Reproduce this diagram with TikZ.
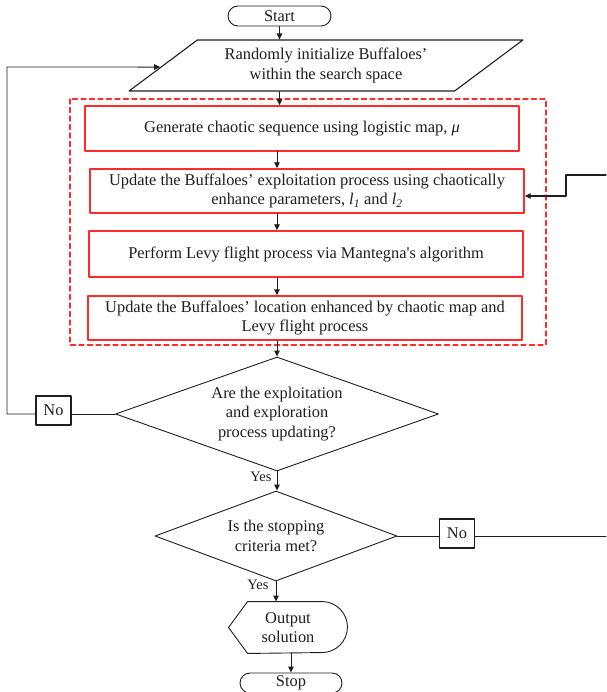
\documentclass[tikz,border=0pt]{standalone}
\usepackage{fontspec}
\setmainfont{Liberation Serif}
\usetikzlibrary{arrows.meta, calc, shapes.misc, shapes.geometric, positioning}
\definecolor{ink}{HTML}{1E1E1E}
\definecolor{fred}{HTML}{FF2B2B}
\tikzset{
  el/.style={line cap=round, line join=round},
  arr/.style={el, -{Triangle[length=6pt,width=5.5pt]}},
  term/.style={draw=ink, rounded rectangle, minimum width=103pt, minimum height=20pt, inner sep=0pt},
  redbox/.style={draw=fred, line width=1.4pt, minimum width=434pt, minimum height=45pt, inner sep=0pt, align=center},
  dec/.style={draw=ink, diamond, inner sep=0pt, align=center},
  nobox/.style={draw=ink, line width=1.1pt, minimum width=35pt, minimum height=29pt, inner sep=0pt},
  lbl/.style={inner sep=0pt, font=\fontsize{14.5}{16}\selectfont},
}

\begin{document}
\begin{tikzpicture}[x=1pt, y=-1pt, el, ink, line width=0.9pt, font=\fontsize{16.4}{19.7}\selectfont]
  \useasboundingbox (0,0) rectangle (606,692);
  \node[term] (start) at (279.5,16) {Start};
  \node[draw=ink, line width=1.1pt, trapezium, trapezium left angle=32.85, trapezium right angle=147.15,
        trapezium stretches=true, minimum width=394pt, minimum height=51pt, inner sep=0pt, align=center]
        (init) at (326,65.5) {Randomly initialize Buffaloes’\\within the search space};
  % chaotic levy block
  \draw[fred, line width=1.1pt, dash pattern=on 5pt off 3.5pt] (70,99) rectangle (546,345);
  \node[redbox] (gen) at (302,128.5) {Generate chaotic sequence using logistic map, \textit{μ}};
  \node[redbox, minimum height=44pt] (upd) at (307,191) {Update the Buffaloes’ exploitation process using chaotically\\enhance parameters, \textit{l}\textsubscript{\textit{1}} and \textit{l}\textsubscript{\textit{2}}};
  \node[redbox, minimum height=46pt] (levy) at (306,254) {Perform Levy flight process via Mantegna\textquotesingle s algorithm};
  \node[redbox, minimum height=44pt] (loc) at (305,318) {Update the Buffaloes’ location enhanced by chaotic map and\\Levy flight process};
  \node[dec, minimum width=323pt, minimum height=114pt, aspect=2.83] (d1) at (277,414) {Are the exploitation\\and exploration\\process updating?};
  \node[dec, minimum width=242pt, minimum height=90pt, aspect=2.69] (d2) at (276,536) {Is the stopping\\criteria met?};
  \node[nobox] (no1) at (53.5,410.5) {No};
  \node[nobox] (no2) at (457,533.5) {No};
  \node[minimum width=118pt, minimum height=51pt, inner sep=0pt, align=center] (out) at (288,627.5) {Output\\solution};
  \draw ($(out.west)$) -- ($(out.north west)+(19,0)$) -- ($(out.north east)+(-25.5,0)$)
        arc[start angle=90, end angle=-90, radius=25.5pt] -- ($(out.south west)+(19,0)$) -- cycle;
  \node[term, minimum width=102pt] (stop) at (291,683) {Stop};
  \node[lbl, anchor=east] (yes1) at ($(d1.south)+(-5,5)$) {Yes};
  \node[lbl, anchor=east] (yes2) at ($(d2.south)+(-7,3)$) {Yes};
  % main column
  \draw[arr] (start.south) -- (start.south |- init.north);
  \draw[arr] (start |- init.south) -- (start |- gen.north);
  \draw[arr] (gen.south -| d1) -- (d1 |- upd.north);
  \draw[arr] (upd.south -| d1) -- (d1 |- levy.north);
  \draw[arr] (levy.south -| d1) -- (d1 |- loc.north);
  \draw[arr] (loc.south -| d1) -- (d1.north);
  \draw[arr] (d1.south) -- (d1.south |- d2.north);
  \draw[arr] (d2.south) -- (d2.south |- out.north);
  \draw[arr] (stop |- out.south) -- (stop.north);
  % left loop
  \coordinate (lb) at (7,414);
  \coordinate (lt) at (7,67);
  \draw (d1.west) -- (d1.west -| no1.east);
  \draw[arr] (d1.west -| no1.west) -- (lb) -- (lt) -- ($(init.bottom left corner)!0.47!(init.top left corner)$);
  % right loop
  \coordinate (rb) at (606,536);
  \coordinate (rt) at (606,175);
  \coordinate (rk) at (566,175);
  \coordinate (rj) at (566,196);
  \draw (d2.east) -- (d2.east -| no2.west);
  \draw (d2.east -| no2.east) -- (rb);
  \draw[arr, line width=1.2pt] (rt) -- (rk) -- (rj) -- (rj -| upd.east);
\end{tikzpicture}
\end{document}
